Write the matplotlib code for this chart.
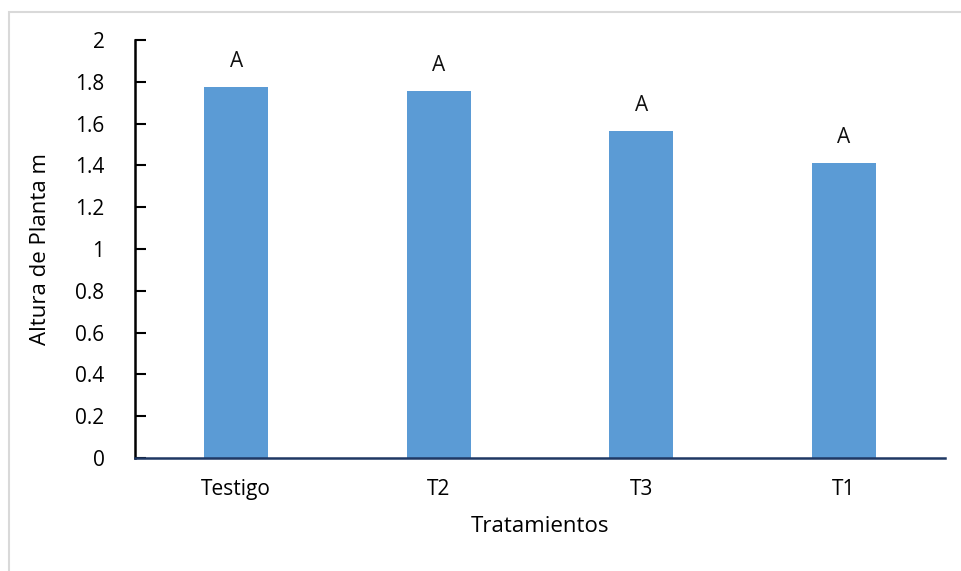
import matplotlib.pyplot as plt
from matplotlib.patches import Rectangle

tratamientos = ["Testigo", "T2", "T3", "T1"]
altura = [1.775, 1.755, 1.565, 1.41]
letras = ["A", "A", "A", "A"]

plt.rcParams['font.family'] = ['Open Sans', 'DejaVu Sans']

W, H = 961, 571
fig = plt.figure(figsize=(W / 100, H / 100), dpi=100)

# marco gris claro del área del gráfico
fig.patches.append(Rectangle((8.5 / W, -0.1), 1.2, (H - 11.5) / H + 0.1,
                             transform=fig.transFigure, fill=False,
                             edgecolor="#d9d9d9", linewidth=1.5))

ax = fig.add_axes([135 / W, (H - 458) / H, (945 - 135) / W, (458 - 40) / H])

x = range(len(tratamientos))
barras = ax.bar(x, altura, width=0.316, color="#5b9bd5")
ax.bar_label(barras, labels=letras, padding=11, fontsize=15, color="#111111")

ax.set_xlim(-0.5, len(tratamientos) - 0.5)
ax.set_ylim(0, 2)
ax.set_yticks([0, 0.2, 0.4, 0.6, 0.8, 1, 1.2, 1.4, 1.6, 1.8, 2])
ax.set_yticklabels(["0", "0.2", "0.4", "0.6", "0.8", "1", "1.2", "1.4", "1.6", "1.8", "2"])
ax.set_xticks(list(x))
ax.set_xticklabels(tratamientos)

for s in ["top", "right"]:
    ax.spines[s].set_visible(False)
ax.spines["left"].set_color("black")
ax.spines["left"].set_linewidth(1.8)
ax.spines["bottom"].set_color("#1f3864")
ax.spines["bottom"].set_linewidth(1.8)

ax.tick_params(axis="y", direction="in", length=8, width=1.5, pad=22, labelsize=15)
ax.tick_params(axis="x", length=0, pad=15, labelsize=15)

ax.set_ylabel("Altura de Planta m", fontsize=16, labelpad=17)
ax.set_xlabel("Tratamientos", fontsize=16, labelpad=12)

fig.savefig("out.png", dpi=100)
